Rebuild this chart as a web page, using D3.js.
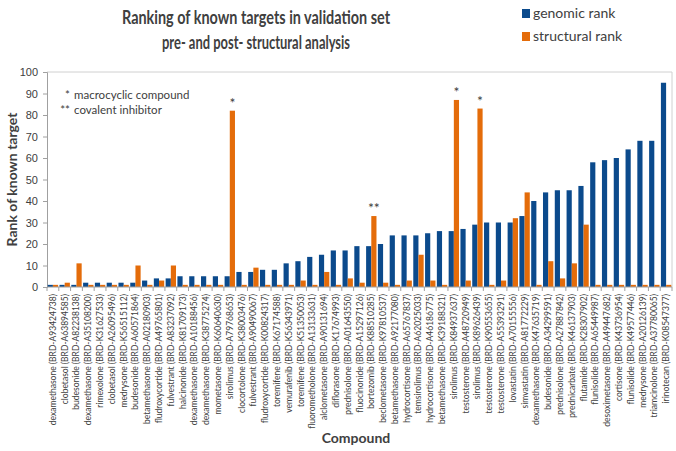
<!DOCTYPE html>
<html>
<head>
<meta charset="utf-8">
<script src="https://cdn.jsdelivr.net/npm/d3@7"></script>
<style>
  body { margin: 0; background: #fff; }
  svg { font-family: Lato, "Open Sans", sans-serif; }
</style>
</head>
<body>
<div id="chart"></div>
<script>
const width = 676;
const height = 451;
const margin = { top: 72, right: 4, bottom: 164, left: 47 };

// compounds, in the order shown
const compounds = [
  "dexamethasone (BRD-A93424738)", "clobetasol (BRD-A63894585)", "budesonide (BRD-A82238138)",
  "dexamethasone (BRD-A35108200)", "rimexolone (BRD-K31627533)", "clobetasol (BRD-A26095496)",
  "medrysone (BRD-K56515112)", "budesonide (BRD-A60571864)", "betamethasone (BRD-A02180903)",
  "fludroxycortide (BRD-A49765801)", "fulvestrant (BRD-A83237092)", "halcinonide (BRD-K81709173)",
  "dexamethasone (BRD-A10188456)", "dexamethasone (BRD-K38775274)", "mometasone (BRD-K60640630)",
  "sirolimus (BRD-A79768653)", "clocortolone (BRD-K38003476)", "fulvestrant (BRD-A90490067)",
  "fludroxycortide (BRD-K00824317)", "toremifene (BRD-K67174588)", "vemurafenib (BRD-K56343971)",
  "toremifene (BRD-K51350053)", "fluorometholone (BRD-A13133631)", "alclometasone (BRD-A90131694)",
  "diflorasone (BRD-K17674993)", "prednisolone (BRD-A01643550)", "fluocinonide (BRD-A15297126)",
  "bortezomib (BRD-K88510285)", "beclometasone (BRD-K97810537)", "betamethasone (BRD-A92177080)",
  "hydrocortisone (BRD-A65767837)", "temsirolimus (BRD-A62025033)", "hydrocortisone (BRD-A46186775)",
  "betamethasone (BRD-K39188321)", "sirolimus (BRD-K84937637)", "testosterone (BRD-A48720949)",
  "sirolimus (BRD-K89626439)", "testosterone (BRD-K90553655)", "testosterone (BRD-A55393291)",
  "lovastatin (BRD-A70155556)", "simvastatin (BRD-A81772229)", "dexamethasone (BRD-K47635719)",
  "budesonide (BRD-A34299591)", "prednisolone (BRD-A27887842)", "prednicarbate (BRD-K46137903)",
  "flutamide (BRD-K28307902)", "flunisolide (BRD-A65449987)", "desoximetasone (BRD-A49447682)",
  "cortisone (BRD-K43736954)", "flunisolide (BRD-K49577446)", "medrysone (BRD-A20126139)",
  "triamcinolone (BRD-A37780065)", "irinotecan (BRD-K08547377)"
];

const genomicRank = [
  1, 1, 1, 2, 2, 2, 2, 2, 3, 4, 4, 5, 5, 5, 5, 5, 7, 7, 8, 8, 11, 12, 14, 15, 17, 17, 19,
  19, 20, 24, 24, 24, 25, 26, 26, 27, 29, 30, 30, 30, 33, 40, 44, 45, 45, 47, 58, 59, 60,
  64, 68, 68, 95
];

const structuralRank = [
  1, 2, 11, 1, 1, 1, 1, 10, 1, 3, 10, 1, 1, 1, 1, 82, 1, 9, 1, 1, 1, 3, 1, 7, 1, 4, 2,
  33, 2, 1, 3, 15, 3, 1, 87, 3, 83, 1, 3, 32, 44, 1, 12, 4, 11, 29, 1, 1, 1, 1, 1, 1, 1
];

// footnote marks over structural bars
const marks = { 15: "*", 27: "**", 34: "*", 36: "*" };

const seriesNames = ["genomic rank", "structural rank"];
const yTicks = [0, 10, 20, 30, 40, 50, 60, 70, 80, 90, 100];

const colors = ["#0b4a8c", "#e46c0a"];

const svg = d3.select("#chart").append("svg")
  .attr("width", width)
  .attr("height", height);

const x = d3.scaleBand()
  .domain(d3.range(compounds.length))
  .range([margin.left, width - margin.right])
  .paddingInner(0.12)
  .paddingOuter(0.06);

const x1 = d3.scaleBand()
  .domain([0, 1])
  .range([0, x.bandwidth()]);

const y = d3.scaleLinear()
  .domain([0, 100])
  .range([height - margin.bottom, margin.top]);

// plot area frame (top and right)
svg.append("path")
  .attr("d", "M" + margin.left + "," + margin.top + "H" + (width - margin.right) + "V" + y(0))
  .attr("fill", "none")
  .attr("stroke", "#d0d0d0");

// y axis
const yAxis = svg.append("g")
  .attr("transform", "translate(" + margin.left + ",0)")
  .call(d3.axisLeft(y).tickValues(yTicks).tickSize(4).tickPadding(5));
yAxis.select(".domain").attr("stroke", "#a0a0a0");
yAxis.selectAll(".tick line").attr("stroke", "#a0a0a0");
yAxis.selectAll("text")
  .style("font-size", "11px")
  .attr("fill", "#404040");

// bars
const groups = svg.selectAll("g.cat")
  .data(compounds.map(function(c, i) { return [genomicRank[i], structuralRank[i]]; }))
  .enter().append("g")
  .attr("class", "cat")
  .attr("transform", function(d, i) { return "translate(" + x(i) + ",0)"; });

groups.selectAll("rect")
  .data(function(d) { return d; })
  .enter().append("rect")
  .attr("x", function(d, j) { return x1(j); })
  .attr("y", function(d) { return y(d); })
  .attr("width", x1.bandwidth())
  .attr("height", function(d) { return y(0) - y(d); })
  .attr("fill", function(d, j) { return colors[j]; });

// x axis with ticks between categories
const step = x.step();
const xAxisG = svg.append("g");
xAxisG.append("line")
  .attr("x1", margin.left).attr("x2", width - margin.right)
  .attr("y1", y(0)).attr("y2", y(0))
  .attr("stroke", "#a0a0a0");
xAxisG.selectAll("line.tk")
  .data(d3.range(compounds.length + 1))
  .enter().append("line")
  .attr("class", "tk")
  .attr("x1", function(i) { return margin.left + i * step; })
  .attr("x2", function(i) { return margin.left + i * step; })
  .attr("y1", y(0)).attr("y2", y(0) + 4)
  .attr("stroke", "#a0a0a0");

xAxisG.selectAll("text")
  .data(compounds)
  .enter().append("text")
  .attr("transform", function(d, i) {
    return "translate(" + (x(i) + x.bandwidth() / 2 + 3) + "," + (y(0) + 7) + ") rotate(-90)";
  })
  .attr("text-anchor", "end")
  .style("font-size", "8.5px")
  .attr("fill", "#404040")
  .text(function(d) { return d; });

// asterisks
Object.keys(marks).forEach(function(k) {
  const i = +k;
  svg.append("text")
    .attr("x", x(i) + x1(1) + x1.bandwidth() / 2)
    .attr("y", y(structuralRank[i]) - 3)
    .attr("text-anchor", "middle")
    .style("font-size", "14px")
    .attr("fill", "#404040")
    .text(marks[k]);
});

// footnote
const notes = [["*", "macrocyclic compound"], ["**", "covalent inhibitor"]];
notes.forEach(function(n, i) {
  svg.append("text")
    .attr("x", 70).attr("y", 99 + i * 15)
    .attr("text-anchor", "end")
    .style("font-size", "11.5px")
    .attr("fill", "#404040")
    .text(n[0]);
  svg.append("text")
    .attr("x", 74).attr("y", 99 + i * 15)
    .style("font-size", "11.5px")
    .attr("fill", "#404040")
    .text(n[1]);
});

// title
const titleLines = [
  ["Ranking of known targets in validation set", 24, 268],
  ["pre- and post- structural analysis", 49, 188]
];
titleLines.forEach(function(t) {
  svg.append("text")
    .attr("x", 256).attr("y", t[1])
    .attr("text-anchor", "middle")
    .attr("textLength", t[2])
    .attr("lengthAdjust", "spacingAndGlyphs")
    .style("font-size", "18px")
    .style("font-weight", "bold")
    .attr("fill", "#404040")
    .text(t[0]);
});

// legend
seriesNames.forEach(function(s, i) {
  svg.append("rect")
    .attr("x", 522).attr("y", 9 + i * 23)
    .attr("width", 8).attr("height", 9)
    .attr("fill", colors[i]);
  svg.append("text")
    .attr("x", 533).attr("y", 18 + i * 23)
    .style("font-size", "14px")
    .attr("fill", "#404040")
    .text(s);
});

// axis titles
svg.append("text")
  .attr("transform", "translate(17," + y(50) + ") rotate(-90)")
  .attr("text-anchor", "middle")
  .style("font-size", "14px")
  .style("font-weight", "bold")
  .attr("fill", "#404040")
  .text("Rank of known target");

svg.append("text")
  .attr("x", 356).attr("y", 443)
  .attr("text-anchor", "middle")
  .style("font-size", "14px")
  .style("font-weight", "bold")
  .attr("fill", "#404040")
  .text("Compound");
</script>
</body>
</html>
